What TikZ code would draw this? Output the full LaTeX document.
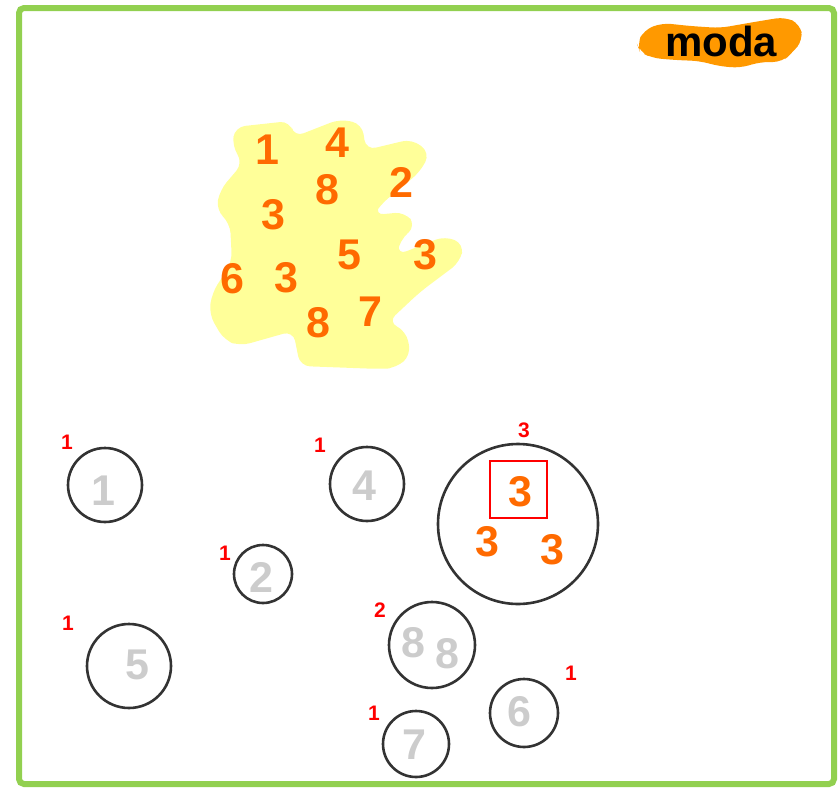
\documentclass[tikz,border=0pt]{standalone}
\usepackage{fontspec}
\setmainfont{Liberation Sans}
\definecolor{frame}{HTML}{92D050}
\definecolor{blob}{HTML}{FF9900}
\definecolor{hl}{HTML}{FFFF99}
\definecolor{orng}{HTML}{FF6A00}
\definecolor{ring}{HTML}{333333}
\definecolor{pale}{HTML}{CCCCCC}
\definecolor{redc}{HTML}{FF0000}
\tikzset{
  dig/.style={text=orng, font=\fontsize{43}{43}\selectfont\bfseries, inner sep=0pt},
  gdig/.style={text=pale, font=\fontsize{43}{43}\selectfont\bfseries, inner sep=0pt},
  cnt/.style={text=redc, font=\fontsize{21}{21}\selectfont\bfseries, inner sep=0pt},
  ringc/.style={draw=ring, line width=2.6pt, circle, inner sep=0pt},
}
\begin{document}
\begin{tikzpicture}[x=1pt,y=-1pt]
\useasboundingbox (0,0) rectangle (840,787);
% frame
\draw[frame, line width=6pt, rounded corners=5pt] (19,8) rectangle (834,784);
% moda blob
\fill[blob, rounded corners=9pt] (637,44) -- (644,30) -- (662,23) -- (690,26) -- (720,28) -- (760,21) -- (785,17) -- (800,24) -- (803,40) -- (792,53) -- (782,62) -- (760,62) -- (740,68) -- (718,66) -- (700,61) -- (675,60) -- (652,58) -- (640,52) -- cycle;
\node[font=\fontsize{42}{42}\selectfont\bfseries, inner sep=0pt] (moda) at (721,41) {moda};
% yellow scribble
\fill[hl, rounded corners=10pt] (235,127) -- (290,121) -- (294,137) -- (340,119) -- (362,124) -- (366,150) -- (412,139) -- (430,153) -- (420,172) -- (380,205) -- (374,215) -- (405,212) -- (416,226) -- (400,240) -- (397,255) -- (445,236) -- (464,244) -- (460,262) -- (420,292) -- (388,322) -- (406,331) -- (411,355) -- (396,368) -- (380,369) -- (300,366) -- (296,345) -- (293,331) -- (240,346) -- (224,340) -- (209,314) -- (212,293) -- (232,262) -- (230,223) -- (216,210) -- (220,190) -- (243,163) -- (232,146) -- cycle;
\node[dig] (y1) at (267,150) {1};
\node[dig] (y4) at (337,143) {4};
\node[dig] (y8a) at (327,190) {8};
\node[dig] (y2) at (401,182) {2};
\node[dig] (y3a) at (273,215) {3};
\node[dig] (y5) at (349,255) {5};
\node[dig] (y3b) at (425,255) {3};
\node[dig] (y6) at (232,279) {6};
\node[dig] (y3c) at (286,278) {3};
\node[dig] (y8b) at (318,323) {8};
\node[dig] (y7) at (370,312) {7};
% circles
\node[ringc, minimum size=74pt] (c1) at (105,485) {};
\node[gdig] (g1) at (103,491) {1};
\node[cnt] (n1) at (67,442) {1};

\node[ringc, minimum size=74pt] (c4) at (367,484) {};
\node[gdig] (g4) at (364,486) {4};
\node[cnt] (n4) at (320,445) {1};

\node[ringc, minimum size=58pt] (c2) at (263,574) {};
\node[gdig] (g2) at (261,577) {2};
\node[cnt] (n2) at (225,553) {1};

\node[ringc, minimum size=160pt] (c3) at (518,524) {};
\node[cnt] (n3) at (524,430) {3};
\draw[redc, line width=2pt] (490,461) rectangle (547,518);
\node[dig] (o1) at (520,492) {3};
\node[dig] (o2) at (487,542) {3};
\node[dig] (o3) at (552,550) {3};

\node[ringc, minimum size=84pt] (c5) at (129,666) {};
\node[gdig] (g5) at (137,665) {5};
\node[cnt] (n5) at (68,623) {1};

\node[ringc, minimum size=86pt] (c8) at (432,645) {};
\node[gdig] (g8a) at (413,643) {8};
\node[gdig] (g8b) at (447,654) {8};
\node[cnt] (n8) at (380,610) {2};

\node[ringc, minimum size=68pt] (c6) at (524,713) {};
\node[gdig] (g6) at (519,712) {6};
\node[cnt] (n6) at (571,673) {1};

\node[ringc, minimum size=66pt] (c7) at (416,744) {};
\node[gdig] (g7) at (414,745) {7};
\node[cnt] (n7) at (374,713) {1};
\end{tikzpicture}
\end{document}
